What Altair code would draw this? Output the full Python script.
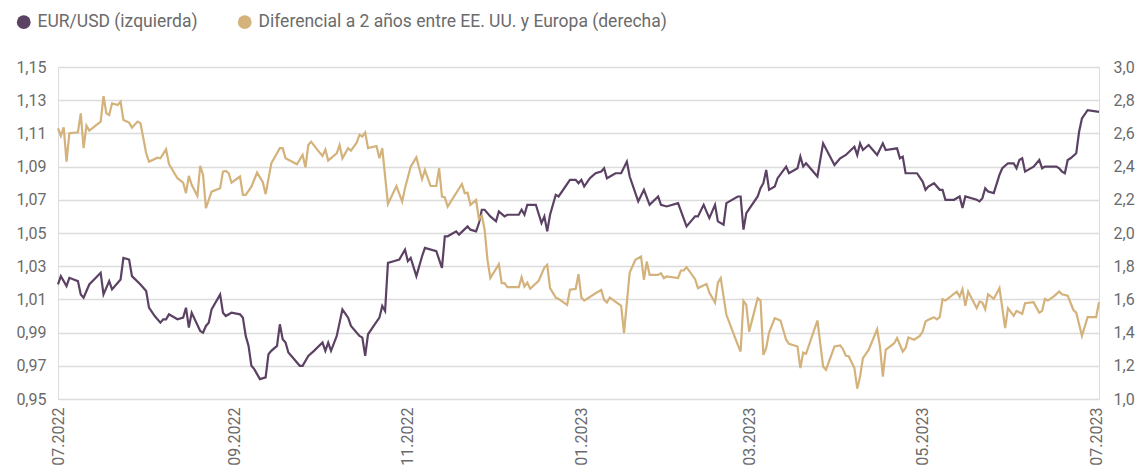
import altair as alt
import pandas as pd

# EUR/USD (eje izquierdo): días desde 01.07.2022 y valores
eur_dias = [0, 1, 3, 4, 7, 8, 9, 11, 15, 16, 18, 19, 22, 23, 25, 26, 29, 31, 32, 34, 36, 37, 38, 39, 42, 44, 45, 46, 47, 50,
            51, 52, 53, 54, 57, 58, 59, 61, 64, 65, 66, 67, 68, 69, 71, 73, 74, 75, 77, 78, 79, 80, 81, 85, 86, 88, 90, 93, 94, 95,
            96, 98, 100, 102, 103, 106, 107, 108, 109, 111, 113, 114, 115, 116, 118, 120, 122, 123, 124, 126, 128, 129, 133, 135, 136, 137, 140, 141, 144, 145,
            147, 148, 149, 150, 152, 154, 155, 157, 158, 162, 163, 164, 165, 168, 170, 171, 172, 173, 175, 176, 180, 182, 183, 184, 185, 187, 189, 191, 192, 193,
            196, 198, 200, 201, 204, 206, 208, 211, 212, 214, 218, 221, 224, 225, 227, 229, 231, 232, 234, 235, 239, 240, 241, 242, 246, 247, 248, 249, 250, 252,
            253, 256, 257, 260, 261, 262, 263, 267, 269, 273, 275, 277, 280, 281, 282, 283, 285, 288, 290, 291, 295, 296, 297, 298, 302, 304, 305, 306, 308, 310,
            311, 312, 315, 317, 318, 319, 323, 324, 325, 326, 327, 329, 331, 332, 334, 336, 337, 338, 339, 340, 343, 345, 346, 347, 351, 352, 353, 354, 355, 356,
            358, 359, 360, 362, 366]
eur_valores = [1.019, 1.024, 1.018, 1.023, 1.021, 1.013, 1.011, 1.019, 1.026, 1.013, 1.021, 1.016, 1.022, 1.035, 1.034, 1.024, 1.019, 1.015, 1.005, 1.000,
               0.996, 0.998, 0.998, 1.001, 0.998, 0.999, 1.005, 0.993, 1.002, 0.991, 0.990, 0.994, 0.996, 1.004, 1.013, 1.002, 1.000, 1.002, 1.001, 0.999,
               0.988, 0.982, 0.970, 0.968, 0.962, 0.963, 0.977, 0.979, 0.982, 0.995, 0.986, 0.984, 0.978, 0.970, 0.970, 0.976, 0.979, 0.984, 0.979, 0.984,
               0.979, 0.988, 1.004, 0.999, 0.994, 0.988, 0.987, 0.976, 0.989, 0.994, 0.999, 1.006, 1.003, 1.032, 1.033, 1.034, 1.040, 1.033, 1.035, 1.024,
               1.036, 1.041, 1.039, 1.029, 1.048, 1.048, 1.051, 1.049, 1.054, 1.052, 1.051, 1.056, 1.064, 1.064, 1.060, 1.057, 1.063, 1.060, 1.061, 1.061,
               1.064, 1.061, 1.067, 1.067, 1.056, 1.060, 1.051, 1.061, 1.073, 1.072, 1.082, 1.082, 1.080, 1.082, 1.078, 1.083, 1.086, 1.087, 1.089, 1.083,
               1.086, 1.086, 1.093, 1.084, 1.069, 1.076, 1.067, 1.072, 1.067, 1.066, 1.068, 1.054, 1.060, 1.060, 1.067, 1.059, 1.067, 1.057, 1.055, 1.068,
               1.072, 1.072, 1.052, 1.062, 1.072, 1.077, 1.080, 1.088, 1.076, 1.078, 1.083, 1.090, 1.086, 1.089, 1.096, 1.090, 1.092, 1.084, 1.104, 1.091,
               1.095, 1.097, 1.102, 1.097, 1.104, 1.100, 1.103, 1.097, 1.104, 1.100, 1.101, 1.095, 1.096, 1.086, 1.086, 1.081, 1.076, 1.078, 1.080, 1.076,
               1.076, 1.070, 1.070, 1.072, 1.065, 1.072, 1.070, 1.069, 1.071, 1.077, 1.075, 1.074, 1.085, 1.089, 1.092, 1.092, 1.089, 1.094, 1.095, 1.087,
               1.090, 1.094, 1.089, 1.090, 1.090, 1.089, 1.087, 1.086, 1.094, 1.095, 1.098, 1.111, 1.119, 1.124, 1.123]

# Diferencial a 2 años EE. UU. - Europa (eje derecho)
dif_dias = [0, 1, 2, 3, 4, 7, 8, 9, 10, 11, 15, 16, 17, 18, 19, 21, 22, 23, 25, 26, 28, 29, 31, 32, 35, 36, 38, 39, 42, 44,
            45, 46, 47, 49, 50, 51, 52, 54, 57, 58, 59, 60, 61, 64, 65, 66, 68, 70, 72, 73, 75, 78, 79, 80, 84, 86, 87, 88, 89, 91,
            93, 94, 95, 98, 99, 100, 102, 103, 105, 106, 107, 108, 109, 112, 113, 114, 116, 119, 121, 122, 124, 126, 128, 129, 131, 133, 134, 135, 136, 137,
            142, 143, 144, 145, 147, 148, 149, 150, 151, 152, 155, 156, 157, 158, 162, 163, 164, 165, 166, 169, 171, 172, 173, 175, 176, 179, 180, 182, 183, 184,
            185, 189, 191, 192, 193, 194, 198, 199, 201, 203, 205, 206, 207, 208, 211, 212, 213, 214, 218, 219, 220, 221, 224, 225, 228, 229, 231, 232, 233, 235,
            239, 240, 241, 242, 243, 246, 247, 248, 249, 250, 252, 254, 256, 257, 260, 261, 262, 263, 267, 269, 270, 273, 275, 276, 277, 278, 280, 281, 282, 283,
            285, 288, 289, 290, 291, 294, 295, 297, 298, 299, 301, 303, 304, 305, 306, 308, 309, 310, 311, 312, 316, 317, 318, 319, 320, 323, 324, 325, 326, 327,
            329, 331, 333, 334, 336, 337, 339, 340, 343, 345, 346, 347, 348, 350, 352, 353, 355, 357, 358, 360, 362, 365, 366]
dif_valores = [2.631, 2.585, 2.637, 2.430, 2.601, 2.607, 2.721, 2.511, 2.647, 2.617, 2.671, 2.825, 2.721, 2.711, 2.781, 2.771, 2.791, 2.681, 2.665, 2.635,
               2.671, 2.661, 2.480, 2.430, 2.454, 2.450, 2.505, 2.416, 2.330, 2.303, 2.240, 2.344, 2.290, 2.223, 2.404, 2.350, 2.149, 2.249, 2.270, 2.370,
               2.374, 2.360, 2.303, 2.340, 2.229, 2.229, 2.279, 2.364, 2.306, 2.234, 2.420, 2.511, 2.511, 2.450, 2.414, 2.470, 2.396, 2.530, 2.550, 2.505,
               2.464, 2.502, 2.436, 2.480, 2.530, 2.450, 2.511, 2.496, 2.544, 2.591, 2.581, 2.605, 2.511, 2.524, 2.450, 2.511, 2.175, 2.283, 2.189, 2.270,
               2.400, 2.456, 2.324, 2.380, 2.283, 2.283, 2.390, 2.219, 2.215, 2.159, 2.295, 2.240, 2.243, 2.169, 2.199, 2.083, 2.105, 2.020, 1.838, 1.728,
               1.812, 1.698, 1.698, 1.674, 1.674, 1.734, 1.677, 1.701, 1.664, 1.712, 1.792, 1.808, 1.668, 1.611, 1.603, 1.567, 1.658, 1.663, 1.752, 1.612,
               1.593, 1.637, 1.657, 1.597, 1.581, 1.611, 1.561, 1.397, 1.762, 1.838, 1.858, 1.718, 1.828, 1.748, 1.748, 1.758, 1.728, 1.738, 1.728, 1.774,
               1.774, 1.794, 1.722, 1.668, 1.693, 1.641, 1.581, 1.701, 1.728, 1.507, 1.326, 1.286, 1.591, 1.567, 1.406, 1.607, 1.593, 1.266, 1.307, 1.400,
               1.487, 1.473, 1.357, 1.332, 1.316, 1.186, 1.280, 1.272, 1.473, 1.196, 1.176, 1.316, 1.323, 1.300, 1.260, 1.258, 1.186, 1.062, 1.135, 1.246,
               1.296, 1.420, 1.316, 1.135, 1.296, 1.336, 1.367, 1.286, 1.307, 1.370, 1.357, 1.380, 1.406, 1.467, 1.477, 1.493, 1.480, 1.493, 1.601, 1.593,
               1.647, 1.617, 1.662, 1.561, 1.647, 1.547, 1.587, 1.580, 1.541, 1.631, 1.603, 1.668, 1.427, 1.547, 1.501, 1.531, 1.513, 1.577, 1.583, 1.520,
               1.531, 1.603, 1.593, 1.617, 1.647, 1.631, 1.623, 1.536, 1.520, 1.380, 1.493, 1.493, 1.583]

series = ["EUR/USD (izquierda)", "Diferencial a 2 años entre EE. UU. y Europa (derecha)"]
colores = ["#5b4163", "#d4b27b"]
ticks_x = ["2022-07-01", "2022-09-01", "2022-11-01", "2023-01-01", "2023-03-01", "2023-05-01", "2023-07-01"]
ticks_izq = [0.95, 0.97, 0.99, 1.01, 1.03, 1.05, 1.07, 1.09, 1.11, 1.13, 1.15]
ticks_der = [1.0, 1.2, 1.4, 1.6, 1.8, 2.0, 2.2, 2.4, 2.6, 2.8, 3.0]

inicio = pd.Timestamp("2022-07-01")
eur = pd.DataFrame({"fecha": inicio + pd.to_timedelta(eur_dias, unit="D"), "valor": eur_valores, "serie": series[0]})
dif = pd.DataFrame({"fecha": inicio + pd.to_timedelta(dif_dias, unit="D"), "valor": dif_valores, "serie": series[1]})
todo = pd.concat([eur, dif])

FONT = "Roboto"
TXT = "#6b6b6b"

x_enc = alt.X("fecha:T", title=None,
              scale=alt.Scale(domain=["2022-07-01", "2023-07-02"]),
              axis=alt.Axis(values=ticks_x, labelExpr="timeFormat(datum.value, '%m.%Y')",
                            labelAngle=270, labelAlign="right", labelBaseline="middle",
                            labelPadding=8, labelFontSize=16, labelColor=TXT, labelFont=FONT,
                            domain=False, ticks=False, grid=False, labelOverlap=False))

linea_eur = alt.Chart(eur).mark_line(color=colores[0], strokeWidth=2.2).encode(
    x=x_enc,
    y=alt.Y("valor:Q", title=None, scale=alt.Scale(domain=[0.95, 1.15], nice=False, zero=False),
            axis=alt.Axis(orient="left", values=ticks_izq,
                          labelExpr="replace(format(datum.value, '.2f'), '.', ',')",
                          labelFontSize=16, labelColor=TXT, labelFont=FONT, labelPadding=12,
                          domain=False, ticks=False, grid=True, gridColor="#dcdcdc", gridWidth=1.5)),
)

linea_dif = alt.Chart(dif).mark_line(color=colores[1], strokeWidth=2.2).encode(
    x=x_enc,
    y=alt.Y("valor:Q", title=None, scale=alt.Scale(domain=[1.0, 3.0], nice=False, zero=False),
            axis=alt.Axis(orient="right", values=ticks_der,
                          labelExpr="replace(format(datum.value, '.1f'), '.', ',')",
                          labelFontSize=16, labelColor=TXT, labelFont=FONT, labelPadding=14,
                          domain=False, ticks=False, grid=False)),
)

leyenda = alt.Chart(todo).mark_circle(opacity=0, size=1).encode(
    x=x_enc,
    y=alt.value(0),
    color=alt.Color("serie:N", scale=alt.Scale(domain=series, range=colores),
                    legend=alt.Legend(title=None, orient="none", direction="horizontal",
                                      legendX=-43, legendY=-54, symbolType="circle",
                                      symbolSize=190, symbolOpacity=1, symbolStrokeWidth=0,
                                      labelFontSize=17.5, labelColor=TXT, labelFont=FONT,
                                      labelOffset=5, columnPadding=38, labelLimit=600)),
)

chart = alt.layer(leyenda, linea_eur, linea_dif).resolve_scale(y="independent").properties(
    width=1041, height=332,
    autosize=alt.AutoSizeParams(type="none"),
    padding={"left": 58, "top": 67, "right": 40, "bottom": 75},
).configure_view(stroke=None).configure(background="white")

chart.save("out.html", embed_options={"renderer": "svg", "actions": False})
